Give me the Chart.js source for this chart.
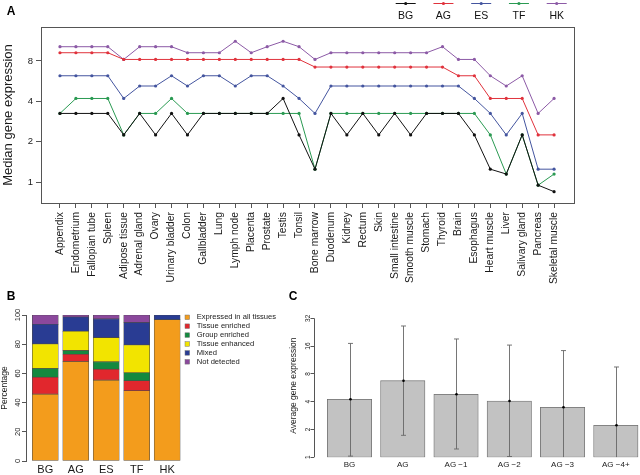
<!DOCTYPE html>
<html><head><meta charset="utf-8">
<script src="https://cdn.jsdelivr.net/npm/chart.js@4.4.1/dist/chart.umd.min.js"></script>
<style>
html,body{margin:0;padding:0;background:#fff;}
body{width:640px;height:475px;position:relative;overflow:hidden;}
canvas{position:absolute;}
</style></head><body>
<canvas id="cA" width="640" height="290" style="left:0;top:0"></canvas>
<canvas id="cB" width="290" height="185" style="left:0;top:290px"></canvas>
<canvas id="cC" width="360" height="185" style="left:280px;top:290px"></canvas>
<script>
const FONT = "'Liberation Sans', Arial, Helvetica, sans-serif";
Chart.defaults.font.family = FONT;
Chart.defaults.color = '#1a1a1a';
Chart.defaults.animation = false;
Chart.defaults.plugins.legend.display = false;
Chart.defaults.plugins.tooltip.enabled = false;

// ---------- Panel A data ----------
const tissues = ['Appendix','Endometrium','Fallopian tube','Spleen','Adipose tissue','Adrenal gland','Ovary','Urinary bladder','Colon','Gallbladder','Lung','Lymph node','Placenta','Prostate','Testis','Tonsil','Bone marrow','Duodenum','Kidney','Rectum','Skin','Small intestine','Smooth muscle','Stomach','Thyroid','Brain','Esophagus','Heart muscle','Liver','Salivary gland','Pancreas','Skeletal muscle'];
const seriesNames = ['BG','AG','ES','TF','HK'];
const seriesColors = ['#111111','#e0323c','#44559f','#2a9a52','#8c5aa6'];
const medianBG = [3.25,3.25,3.25,3.25,2.25,3.25,2.25,3.25,2.25,3.25,3.25,3.25,3.25,3.25,4.2,2.25,1.25,3.25,2.25,3.25,2.25,3.25,2.25,3.25,3.25,3.25,2.25,1.25,1.15,2.25,0.95,0.85];
const medianAG = [9.2,9.2,9.2,9.2,8.2,8.2,8.2,8.2,8.2,8.2,8.2,8.2,8.2,8.2,8.2,8.2,7.2,7.2,7.2,7.2,7.2,7.2,7.2,7.2,7.2,6.2,6.2,4.2,4.2,4.2,2.25,2.25];
const medianES = [6.2,6.2,6.2,6.2,4.2,5.2,5.2,6.2,5.2,6.2,6.2,5.2,6.2,6.2,5.2,4.2,3.25,5.2,5.2,5.2,5.2,5.2,5.2,5.2,5.2,5.2,4.2,3.25,2.25,3.25,1.25,1.25];
const medianTF = [3.25,4.2,4.2,4.2,2.25,3.25,3.25,4.2,3.25,3.25,3.25,3.25,3.25,3.25,3.25,3.25,1.25,3.25,3.25,3.25,3.25,3.25,3.25,3.25,3.25,3.25,3.25,2.25,1.15,2.25,0.95,1.15];
const medianHK = [10.2,10.2,10.2,10.2,8.2,10.2,10.2,10.2,9.2,9.2,9.2,11.2,9.2,10.2,11.2,10.2,8.2,9.2,9.2,9.2,9.2,9.2,9.2,9.2,10.2,8.2,8.2,6.2,5.2,6.2,3.25,4.2];
const yTicksA = [1,2,4,8];

// ---------- Panel B data ----------
const groupsB = ['BG','AG','ES','TF','HK'];
const categoriesB = ['Expressed in all tissues','Tissue enriched','Group enriched','Tissue enhanced','Mixed','Not detected'];
const colorsB = ['#f39c1c','#e1272d','#14893f','#f2e400','#293c93','#8b489c'];
const expressedAll   = [45.8, 68.1, 55.4, 48.1, 96.8];
const tissueEnriched = [11.6, 5.0, 7.5, 6.8, 0];
const groupEnriched  = [5.9, 2.5, 5.0, 5.5, 0];
const tissueEnhanced = [16.9, 13.2, 16.6, 19.1, 0];
const mixedPattern   = [13.4, 9.8, 12.8, 15.3, 3.2];
const notDetected    = [6.4, 1.4, 2.7, 5.2, 0];
const ticksB = [0,20,40,60,80,100];

// ---------- Panel C data ----------
const groupsC = ['BG','AG','AG \u22121','AG \u22122','AG \u22123','AG \u22124+'];
const meanC  = [4.25, 6.75, 4.81, 4.07, 3.48, 2.22];
const upperC = [17.1, 26.4, 19.1, 16.4, 14.3, 9.5];
const lowerC = [1.03, 1.73, 1.23, 1.02, 0.9, 0.85];
const ticksC = [1,2,4,8,16,32];

function panelLabel(text, x, y) {
  return {id:'lbl'+text, afterDraw(chart){
    const c = chart.ctx; c.save();
    c.font = 'bold 12px ' + FONT; c.fillStyle = '#000';
    c.textAlign = 'center'; c.textBaseline = 'middle';
    c.fillText(text, x, y); c.restore();
  }};
}

const boxPlugin = {id:'box', afterDraw(chart){
  const a = chart.chartArea, c = chart.ctx; c.save();
  c.strokeStyle = '#555'; c.lineWidth = 1;
  c.strokeRect(Math.round(a.left)+0.5, Math.round(a.top)+0.5, Math.round(a.right-a.left), Math.round(a.bottom-a.top));
  c.restore();
}};

const legendA = {id:'legendA', afterDraw(chart){
  const c = chart.ctx; c.save();
  chart.data.datasets.forEach((ds,k)=>{
    const cx = 405.7 + 37.75*k;
    c.strokeStyle = ds.borderColor; c.lineWidth = 1;
    c.beginPath(); c.moveTo(cx-10, 3.5); c.lineTo(cx+10, 3.5); c.stroke();
    c.fillStyle = ds.borderColor;
    c.beginPath(); c.arc(cx, 3.5, 1.6, 0, Math.PI*2); c.fill();
    c.font = '10.5px ' + FONT; c.textAlign = 'center'; c.textBaseline = 'middle';
    c.fillStyle = '#111'; c.fillText(ds.label, cx, 15.7);
  });
  c.restore();
}};

const seriesA = [medianBG, medianAG, medianES, medianTF, medianHK];
new Chart(document.getElementById('cA'), {
  type: 'line',
  data: { datasets: seriesNames.map((n,k)=>({
    label: n,
    data: seriesA[k].map((v,i)=>({x:i, y:v})),
    borderColor: seriesColors[k], backgroundColor: seriesColors[k],
    borderWidth: 1, pointRadius: 1.6, pointBorderWidth: 0,
    pointBackgroundColor: seriesColors[k], tension: 0, fill: false
  })) },
  options: {
    responsive: false, animation: false,
    layout: {padding: {left:0, right:66, top:27, bottom:0}},
    scales: {
      x: {type:'linear', min:-1.19, max:32.25, offset:false,
        afterBuildTicks: s => { s.ticks = tissues.map((t,i)=>({value:i})); },
        afterFit: s => { s.height = 87; },
        grid: {drawOnChartArea:false, drawTicks:true, tickLength:5, color:'#555', lineWidth:1},
        border: {display:false},
        ticks: {autoSkip:false, minRotation:90, maxRotation:90, padding:4, font:{size:10.3},
          callback: v => tissues[Math.round(v)]}
      },
      y: {type:'logarithmic', min:0.725, max:14.3,
        afterBuildTicks: s => { s.ticks = yTicksA.map(v=>({value:v})); },
        afterFit: s => { s.width = 41; },
        grid: {drawOnChartArea:false, drawTicks:true, tickLength:5, color:'#555', lineWidth:1},
        border: {display:false},
        ticks: {padding:3, font:{size:9.5}, callback: v => String(v)},
        title: {display:true, text:'Median gene expression', font:{size:13, lineHeight:1}, padding:{top:2, bottom:0}}
      }
    }
  },
  plugins: [boxPlugin, legendA, panelLabel('A', 11, 12)]
});

// ---------- Panel B ----------
const legendB = {id:'legendB', afterDraw(chart){
  const c = chart.ctx; c.save();
  c.font = '7.6px ' + FONT; c.textBaseline = 'middle'; c.textAlign = 'left';
  categoriesB.forEach((name,k)=>{
    const yy = 27.3 + 8.9*k;
    c.fillStyle = colorsB[k]; c.fillRect(185, yy-2.3, 4.6, 4.6);
    c.strokeStyle = '#777'; c.lineWidth = 0.5; c.strokeRect(185, yy-2.3, 4.6, 4.6);
    c.fillStyle = '#1a1a1a'; c.fillText(name, 196.7, yy);
  });
  c.restore();
}};
const stackB = [expressedAll, tissueEnriched, groupEnriched, tissueEnhanced, mixedPattern, notDetected];
new Chart(document.getElementById('cB'), {
  type: 'bar',
  data: { datasets: categoriesB.map((name,k)=>({
    label: name,
    data: groupsB.map((g,i)=>({x:i, y:stackB[k][i]})),
    backgroundColor: colorsB[k], borderColor: '#4a4a4a', borderWidth: 0.6,
    borderSkipped: false, barThickness: 26
  })) },
  options: {
    responsive: false, animation: false,
    layout: {padding: {left:0, right:100, top:25, bottom:0}},
    scales: {
      x: {type:'linear', stacked:true, min:-0.633, max:4.749, offset:false,
        afterBuildTicks: s => { s.ticks = groupsB.map((g,i)=>({value:i})); },
        afterFit: s => { s.height = 14; },
        grid: {display:false, drawTicks:false}, border: {display:false},
        ticks: {autoSkip:false, minRotation:0, maxRotation:0, padding:2, font:{size:11},
          callback: v => groupsB[Math.round(v)]}
      },
      y: {type:'linear', stacked:true, min:0, max:100,
        afterBuildTicks: s => { s.ticks = ticksB.map(v=>({value:v})); },
        afterFit: s => { s.width = 26; },
        grid: {drawOnChartArea:false, drawTicks:true, tickLength:4, color:'#555'},
        border: {display:true, color:'#555', width:1},
        ticks: {minRotation:90, maxRotation:90, crossAlign:'center', padding:-2.5, font:{size:7.5}},
        title: {display:true, text:'Percentage', font:{size:8.5, lineHeight:1.2}, padding:0}
      }
    }
  },
  plugins: [legendB, panelLabel('B', 11, 7)]
});

// ---------- Panel C ----------
const errorBars = {id:'errorBars', afterDatasetsDraw(chart){
  const {ctx, chartArea:a, scales:{x, y}} = chart;
  ctx.save();
  ctx.beginPath(); ctx.rect(a.left, a.top-10, a.right-a.left, a.bottom-a.top+10); ctx.clip();
  ctx.strokeStyle = '#666'; ctx.lineWidth = 0.9;
  groupsC.forEach((g,i)=>{
    const px = Math.round(x.getPixelForValue(i)) + 0.5;
    const yt = y.getPixelForValue(upperC[i]);
    const below = lowerC[i] < y.min;
    const yb = below ? a.bottom : y.getPixelForValue(lowerC[i]);
    ctx.beginPath(); ctx.moveTo(px, yt); ctx.lineTo(px, yb); ctx.stroke();
    ctx.beginPath(); ctx.moveTo(px-2.5, yt); ctx.lineTo(px+2.5, yt); ctx.stroke();
    if (!below) { ctx.beginPath(); ctx.moveTo(px-2.5, yb); ctx.lineTo(px+2.5, yb); ctx.stroke(); }
    ctx.fillStyle = '#000';
    ctx.beginPath(); ctx.arc(px, y.getPixelForValue(meanC[i]), 1.3, 0, Math.PI*2); ctx.fill();
  });
  ctx.restore();
}};
const axisLineC = {id:'axisLineC', afterDraw(chart){
  const {ctx, chartArea:a, scales:{y}} = chart;
  ctx.save(); ctx.strokeStyle = '#555'; ctx.lineWidth = 1;
  const xx = Math.round(a.left) + 0.5;
  ctx.beginPath(); ctx.moveTo(xx, y.getPixelForValue(ticksC[0])); ctx.lineTo(xx, y.getPixelForValue(ticksC[ticksC.length-1])); ctx.stroke();
  ctx.restore();
}};
new Chart(document.getElementById('cC'), {
  type: 'bar',
  data: { datasets: [{
    label: 'Average gene expression',
    data: groupsC.map((g,i)=>({x:i, y:[1, meanC[i]]})),
    backgroundColor: '#c2c2c2', borderColor: '#6e6e6e', borderWidth: 0.8,
    borderSkipped: false, barThickness: 44.4
  }] },
  options: {
    responsive: false, animation: false,
    layout: {padding: {left:0, right:0, top:24, bottom:0}},
    scales: {
      x: {type:'linear', min:-0.676, max:5.454, offset:false,
        afterBuildTicks: s => { s.ticks = groupsC.map((g,i)=>({value:i})); },
        afterFit: s => { s.height = 17.7; },
        grid: {display:false, drawTicks:false}, border: {display:false},
        ticks: {autoSkip:false, minRotation:0, maxRotation:0, padding:3, font:{size:8},
          callback: v => groupsC[Math.round(v)]}
      },
      y: {type:'logarithmic', min:1, max:35.6,
        afterBuildTicks: s => { s.ticks = ticksC.map(v=>({value:v})); },
        afterFit: s => { s.width = 33.5; },
        grid: {drawOnChartArea:false, drawTicks:true, tickLength:3, color:'#555'},
        border: {display:false},
        ticks: {minRotation:90, maxRotation:90, crossAlign:'center', padding:-1.1, font:{size:6.5},
          callback: v => String(v)},
        title: {display:true, text:'Average gene expression', font:{size:8.5, lineHeight:1}, padding:{top:9, bottom:0}}
      }
    }
  },
  plugins: [errorBars, axisLineC, panelLabel('C', 13, 7)]
});
</script>
</body></html>
